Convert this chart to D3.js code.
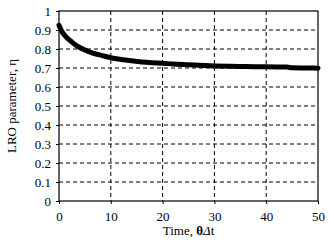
<!DOCTYPE html>
<html>
<head>
<meta charset="utf-8">
<script src="https://cdn.jsdelivr.net/npm/d3@7"></script>
<style>
  body { margin: 0; background: #fff; }
  text { font-family: "Liberation Serif", "Times New Roman", serif; fill: #000; }
</style>
</head>
<body>
<div id="chart"></div>
<script>
// data
const times = [0, 0.5, 1, 1.5, 2, 3, 4, 5, 6, 7, 8, 10, 12, 14, 16, 18, 20, 22, 25, 28, 30, 33, 36, 40, 44, 45, 48, 50];
const eta   = [0.925, 0.895, 0.875, 0.86, 0.848, 0.825, 0.808, 0.795, 0.784, 0.775, 0.768, 0.754, 0.745, 0.738, 0.732, 0.728, 0.725, 0.721, 0.717, 0.713, 0.711, 0.709, 0.708, 0.706, 0.705, 0.701, 0.700, 0.699];
const xTicks = [0, 10, 20, 30, 40, 50];
const yTicks = [0, 0.1, 0.2, 0.3, 0.4, 0.5, 0.6, 0.7, 0.8, 0.9, 1];
const yTickLabels = ['0', '0.1', '0.2', '0.3', '0.4', '0.5', '0.6', '0.7', '0.8', '0.9', '1'];

const W = 334, H = 245;
const margin = { top: 11, right: 16, bottom: 44, left: 59 };
const width = W - margin.left - margin.right;
const height = H - margin.top - margin.bottom;

const svg = d3.select('#chart').append('svg')
  .attr('width', W)
  .attr('height', H);

const g = svg.append('g')
  .attr('transform', `translate(${margin.left}, ${margin.top})`);

const x = d3.scaleLinear().domain([0, 50]).range([0, width]);
const y = d3.scaleLinear().domain([0, 1]).range([height, 0]);

// dashed grid
g.append('g').selectAll('line')
  .data(xTicks.slice(1, -1))
  .enter().append('line')
  .attr('x1', d => x(d)).attr('x2', d => x(d))
  .attr('y1', 0).attr('y2', height)
  .attr('stroke', '#000').attr('stroke-width', 1)
  .attr('stroke-dasharray', '4,3');

g.append('g').selectAll('line')
  .data(yTicks.slice(1, -1))
  .enter().append('line')
  .attr('x1', 0).attr('x2', width)
  .attr('y1', d => y(d)).attr('y2', d => y(d))
  .attr('stroke', '#000').attr('stroke-width', 1)
  .attr('stroke-dasharray', '4,3');

// axes
const xAxis = g.append('g')
  .attr('transform', `translate(0, ${height})`)
  .call(d3.axisBottom(x).tickValues(xTicks).tickSize(3).tickFormat(d3.format('d')));
const yAxis = g.append('g')
  .call(d3.axisLeft(y).tickValues(yTicks).tickSize(3).tickFormat((d, i) => yTickLabels[i]));

[xAxis, yAxis].forEach(a => {
  a.attr('font-family', null);
  a.select('.domain').remove();
  a.selectAll('text').attr('font-size', 13);
  a.selectAll('line').attr('stroke', '#000');
});
xAxis.selectAll('text').attr('dy', '1.05em');
yAxis.selectAll('text').attr('dx', '-2');

// frame
g.append('rect')
  .attr('x', 0).attr('y', 0)
  .attr('width', width).attr('height', height)
  .attr('fill', 'none').attr('stroke', '#000').attr('stroke-width', 1.2);

// curve
const line = d3.line()
  .x((d, i) => x(times[i]))
  .y(d => y(d))
  .curve(d3.curveMonotoneX);

g.append('path')
  .datum(eta)
  .attr('d', line)
  .attr('fill', 'none')
  .attr('stroke', '#000')
  .attr('stroke-width', 5)
  .attr('stroke-linecap', 'round');

// axis titles
const xt = svg.append('text')
  .attr('x', margin.left + width / 2)
  .attr('y', H - 10)
  .attr('text-anchor', 'middle')
  .attr('font-size', 13);
xt.append('tspan').text('Time, ');
xt.append('tspan').attr('font-weight', 'bold').text('θ');
xt.append('tspan').attr('font-style', 'italic').text('Δ');
xt.append('tspan').text('t');

svg.append('text')
  .attr('transform', `translate(16, ${margin.top + height / 2}) rotate(-90)`)
  .attr('text-anchor', 'middle')
  .attr('font-size', 13)
  .text('LRO parameter, η');
</script>
</body>
</html>
